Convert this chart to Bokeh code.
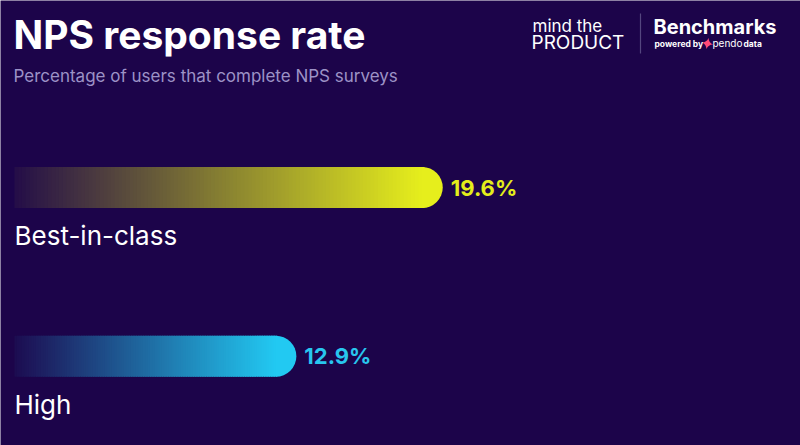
import numpy as np
from bokeh.plotting import figure
from bokeh.models import Range1d, Label
from bokeh.embed import file_html
from bokeh.resources import INLINE

# ---- data ----
categories = ["Best-in-class", "High"]
values = [19.6, 12.9]
value_labels = ["19.6%", "12.9%"]
title_text = "NPS response rate"
subtitle_text = "Percentage of users that complete NPS surveys"

# ---- style ----
bar_colors = ["#e6ee1c", "#22c9f2"]
label_colors = ["#e4ed1b", "#28c6ef"]
BG = "#1c044a"
W, H = 800, 445
PX_PER_UNIT = 21.85
X0_PX = 14
x_start = -X0_PX / PX_PER_UNIT
x_end = x_start + W / PX_PER_UNIT
bar_centers = [187, 355.7]
bar_h = 41
FONT = "Inter"
BASE_ADJ = 0.31  # baseline correction (fraction of font size)

p = figure(width=W, height=H, x_range=Range1d(x_start, x_end), y_range=Range1d(H, 0),
           output_backend="svg", toolbar_location=None, min_border=0,
           x_axis_location=None, y_axis_location=None)
p.grid.visible = False
p.outline_line_color = None
p.background_fill_color = BG
p.border_fill_color = BG


def hex2rgb(h):
    h = h.lstrip("#")
    return np.array([int(h[i:i + 2], 16) for i in (0, 2, 4)], dtype=float)


def mix(c1, c2, t):
    c = hex2rgb(c1) * (1 - t) + hex2rgb(c2) * t
    return "#%02x%02x%02x" % tuple(int(round(v)) for v in c)


def txt(x, y, text, size, color="white", bold=False, x_units="screen"):
    p.add_layout(Label(x=x, y=y - BASE_ADJ * size, x_units=x_units, y_units="data",
                       text=text, text_font=FONT, text_font_size="%gpx" % size,
                       text_font_style="bold" if bold else "normal",
                       text_color=color, text_baseline="alphabetic"))


r_px = bar_h / 2
r_data = r_px / PX_PER_UNIT
N = 110
for v, col, yc in zip(values, bar_colors, bar_centers):
    xe = v - r_data
    edges = np.linspace(0, xe, N + 1)
    step = edges[1] - edges[0]
    lefts = edges[:-1]
    rights = edges[1:] + step * 0.6
    ts = np.clip((lefts + step / 2) / xe, 0, 1) * 0.96 + 0.04
    cols = [mix(BG, col, t) for t in ts]
    p.quad(left=lefts, right=rights, top=yc - bar_h / 2, bottom=yc + bar_h / 2,
           fill_color=cols, line_color=None)
    p.wedge(x=[xe], y=[yc], radius=r_px, radius_units="screen",
            start_angle=-np.pi / 2, end_angle=np.pi / 2,
            fill_color=col, line_color=None)

# category labels and value labels
for cat, v, lab, lc, yc in zip(categories, values, value_labels, label_colors, bar_centers):
    txt(0, yc + 56, cat, 26, x_units="data")
    p.add_layout(Label(x=v, y=yc, x_offset=8, text=lab, text_font=FONT,
                       text_font_size="22px", text_font_style="bold", text_color=lc,
                       text_baseline="middle"))

# title and subtitle
txt(13, 46, title_text, 39, bold=True)
txt(13, 81, subtitle_text, 17, color="#9c92c6")


# header brand block
def hx(page_px):
    return x_start + page_px / PX_PER_UNIT

txt(532, 31, "mind the", 17)
txt(531, 48, "PRODUCT", 19)
p.segment(x0=[hx(640)], y0=[13], x1=[hx(640)], y1=[53], line_color="#54467f", line_width=1.2)
txt(653, 33, "Benchmarks", 20, bold=True)
txt(654, 46, "powered by", 8.5, bold=True)
p.scatter(x=[hx(707)], y=[43], marker="square_pin", size=8, angle=0.6,
          fill_color="#ff4a78", line_color=None)
txt(712, 46, "pendo", 10)
txt(743, 46, "data", 8.5, bold=True)

html = file_html(p, INLINE, title="NPS response rate")
html = html.replace("<body>", '<body style="margin:0;background-color:%s;">' % BG, 1)
open("out.html", "w").write(html)
